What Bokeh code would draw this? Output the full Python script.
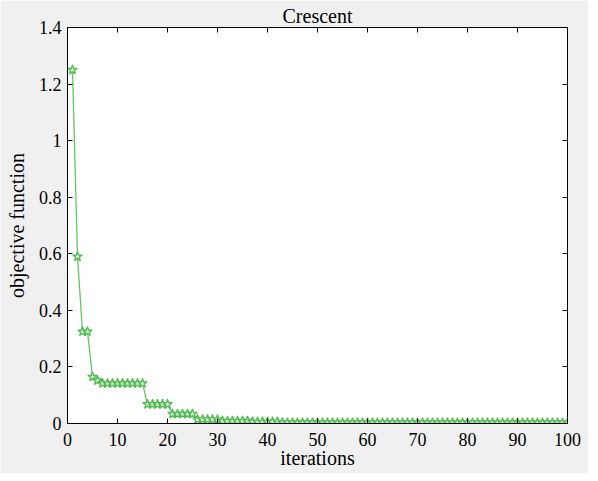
from bokeh.plotting import figure
from bokeh.models import Range1d, LinearAxis, FixedTicker
from bokeh.embed import file_html
from bokeh.resources import INLINE

iterations = list(range(1, 101))
objective = [
    1.25, 0.59, 0.325, 0.325, 0.165, 0.152, 0.142, 0.142, 0.142, 0.142,
    0.142, 0.142, 0.142, 0.142, 0.142, 0.068, 0.068, 0.068, 0.068, 0.068,
    0.034, 0.034, 0.034, 0.034, 0.034, 0.014, 0.014, 0.014, 0.014, 0.014,
    0.009, 0.009, 0.009, 0.009, 0.009, 0.009, 0.006, 0.006, 0.006, 0.006,
    0.006, 0.006, 0.003, 0.003, 0.003, 0.003, 0.003, 0.003, 0.003, 0.003,
    0.003, 0.003, 0.003, 0.003, 0.003, 0.003, 0.003, 0.003, 0.003, 0.003,
    0.003, 0.003, 0.003, 0.003, 0.003, 0.003, 0.003, 0.003, 0.003, 0.003,
    0.003, 0.003, 0.003, 0.003, 0.003, 0.003, 0.003, 0.003, 0.003, 0.003,
    0.003, 0.003, 0.003, 0.003, 0.003, 0.003, 0.003, 0.003, 0.003, 0.003,
    0.003, 0.003, 0.003, 0.003, 0.003, 0.003, 0.003, 0.003, 0.003, 0.003,
]
x_ticks = [0, 10, 20, 30, 40, 50, 60, 70, 80, 90, 100]
y_ticks = [0, 0.2, 0.4, 0.6, 0.8, 1.0, 1.2, 1.4]
y_tick_labels = ["0", "0.2", "0.4", "0.6", "0.8", "1", "1.2", "1.4"]

FONT = "Liberation Serif"

p = figure(
    frame_width=500, frame_height=396,
    min_border_left=67, min_border_right=21, min_border_top=27, min_border_bottom=50,
    x_range=Range1d(0, 100), y_range=Range1d(0, 1.4),
    output_backend="svg", toolbar_location=None,
    title="Crescent",
)
p.border_fill_color = "#f0f0f0"
p.background_fill_color = "white"
p.outline_line_color = "black"
p.outline_line_width = 1
p.grid.visible = False

p.title.text_font = FONT
p.title.text_font_size = "20px"
p.title.text_font_style = "normal"
p.title.align = "center"
p.title.text_color = "black"
p.title.standoff = 2
p.title.offset = 0

p.line(iterations, objective, line_color="#66c466", line_width=1.3)
p.scatter(iterations, objective, marker="star", size=10,
          line_color="#4cb84c", fill_color="#c9ebc9", line_width=1.2)

for ax in (p.xaxis[0], p.yaxis[0]):
    ax.major_tick_in = 5
    ax.major_tick_out = 0
    ax.minor_tick_in = 0
    ax.minor_tick_out = 0
    ax.axis_line_color = "black"
    ax.major_tick_line_color = "black"
    ax.major_label_text_font = FONT
    ax.major_label_text_font_size = "18px"
    ax.major_label_text_color = "black"
    ax.axis_label_text_font = FONT
    ax.axis_label_text_font_size = "20px"
    ax.axis_label_text_font_style = "normal"
    ax.axis_label_text_color = "black"

p.xaxis[0].ticker = FixedTicker(ticks=x_ticks)
p.yaxis[0].ticker = FixedTicker(ticks=y_ticks)
p.yaxis[0].major_label_overrides = {t: l for t, l in zip(y_ticks, y_tick_labels)}
p.xaxis[0].axis_label = "iterations"
p.yaxis[0].axis_label = "objective function"
p.xaxis[0].major_label_standoff = 9
p.yaxis[0].major_label_standoff = 6
p.xaxis[0].axis_label_standoff = -2
p.yaxis[0].axis_label_standoff = 8

top = LinearAxis(ticker=FixedTicker(ticks=x_ticks), major_tick_in=5, major_tick_out=0,
                 minor_tick_in=0, minor_tick_out=0, major_label_text_font_size="0px",
                 axis_line_color=None, major_tick_line_color="black", major_label_standoff=0)
right = LinearAxis(ticker=FixedTicker(ticks=y_ticks), major_tick_in=5, major_tick_out=0,
                   minor_tick_in=0, minor_tick_out=0, major_label_text_font_size="0px",
                   axis_line_color=None, major_tick_line_color="black", major_label_standoff=0)
p.add_layout(top, "above")
p.add_layout(right, "right")

open("out.html", "w").write(file_html(p, INLINE))
